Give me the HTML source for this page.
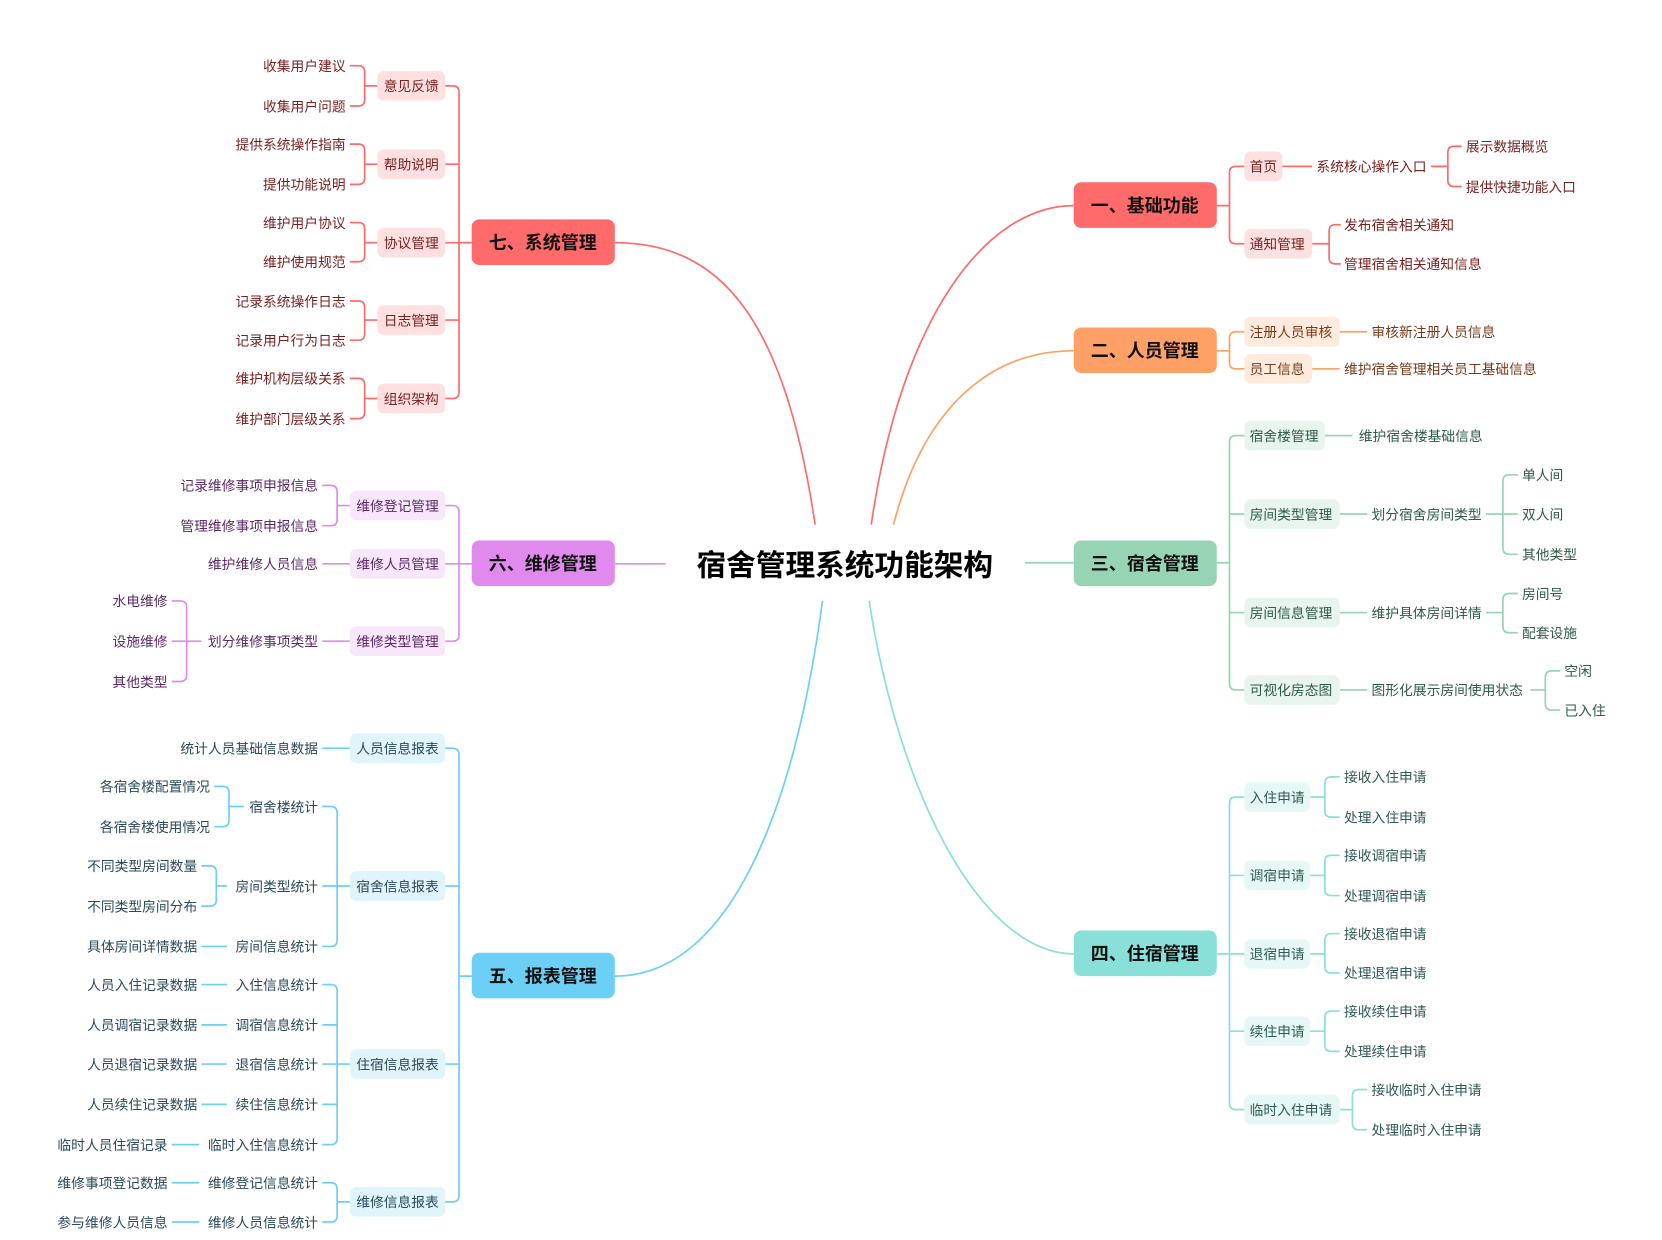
<!DOCTYPE html>
<html><head><meta charset="utf-8"><style>
html,body{margin:0;padding:0;background:#fff;width:1662px;height:1240px;overflow:hidden}
svg text{font-family:"Liberation Sans","Noto Sans CJK SC",sans-serif}
.t{font-size:13px}
.m{font-size:17px;font-weight:bold;fill:#111;text-anchor:middle}
.e{text-anchor:end}
path{fill:none;stroke-width:1.6}
</style></head><body>
<svg width="1662" height="1240" viewBox="0 0 1568 1170" xmlns="http://www.w3.org/2000/svg">
<!-- center -->
<text x="797" y="543" style="font-size:28px;font-weight:bold;text-anchor:middle;fill:#000">宿舍管理系统功能架构</text>
<path d="M822,495 C850,300 930,194 1013,194" stroke="#FF6B6B"/>
<path d="M843,495 C870,390 930,331 1013,331" stroke="#FFA066"/>
<path d="M967,531 H1013" stroke="#96D4B4"/>
<path d="M820,567 C850,760 930,900 1013,900" stroke="#88E0D8"/>
<path d="M769,495 C740,300 680,229 580,229" stroke="#FF6B6B"/>
<path d="M628,532 H580" stroke="#E08AED"/>
<path d="M776,567 C750,760 690,921 580,921" stroke="#6CCFF6"/>

<!-- 一 -->
<g stroke="#FF6B6B">
<path d="M1148,194 H1160 M1174,157 H1166 Q1160,157 1160,163 V224 Q1160,230 1166,230 H1174"/>
<path d="M1210,157 H1238 M1350,157 H1366 M1379,138 H1372 Q1366,138 1366,144 V170 Q1366,176 1372,176 H1379"/>
<path d="M1238,230 H1254 M1265,212 H1260 Q1254,212 1254,218 V243 Q1254,249 1260,249 H1265"/>
</g>
<rect x="1013" y="172" width="135" height="43" rx="7" fill="#FF6B6B"/>
<text class="m" x="1080" y="200">一、基础功能</text>
<g fill="#FFE0E0"><rect x="1174" y="143" width="36" height="28" rx="6"/><rect x="1174" y="216" width="64" height="28" rx="6"/></g>
<g class="t" fill="#7a1f1f">
<text x="1179" y="162">首页</text><text x="1242" y="162">系统核心操作入口</text>
<text x="1383" y="143">展示数据概览</text><text x="1383" y="181">提供快捷功能入口</text>
<text x="1179" y="235">通知管理</text><text x="1268" y="217">发布宿舍相关通知</text><text x="1268" y="254">管理宿舍相关通知信息</text>
</g>

<!-- 二 -->
<g stroke="#FFA066">
<path d="M1148,331 H1160 M1174,313 H1166 Q1160,313 1160,319 V342 Q1160,348 1166,348 H1174"/>
<path d="M1264,313 H1290 M1238,348 H1264"/>
</g>
<rect x="1013" y="309" width="135" height="43" rx="7" fill="#FFA066"/>
<text class="m" x="1080" y="337">二、人员管理</text>
<g fill="#FFEBDD"><rect x="1174" y="299" width="90" height="28" rx="6"/><rect x="1174" y="334" width="64" height="28" rx="6"/></g>
<g class="t" fill="#7a3a1a">
<text x="1179" y="318">注册人员审核</text><text x="1294" y="318">审核新注册人员信息</text>
<text x="1179" y="353">员工信息</text><text x="1268" y="353">维护宿舍管理相关员工基础信息</text>
</g>

<!-- 三 -->
<g stroke="#96D4B4">
<path d="M1148,531 H1160 M1174,411 H1166 Q1160,411 1160,417 V645 Q1160,651 1166,651 H1174 M1160,485 H1174 M1160,578 H1174"/>
<path d="M1250,411 H1276 M1264,485 H1290 M1264,578 H1290 M1264,651 H1290"/>
<path d="M1402,485 H1432 M1432,448 H1424 Q1418,448 1418,454 V517 Q1418,523 1424,523 H1432"/>
<path d="M1402,578 H1418 M1432,560 H1424 Q1418,560 1418,566 V591 Q1418,597 1424,597 H1432"/>
<path d="M1444,651 H1458 M1472,633 H1464 Q1458,633 1458,639 V664 Q1458,670 1464,670 H1472"/>
</g>
<rect x="1013" y="510" width="135" height="43" rx="7" fill="#96D4B4"/>
<text class="m" x="1080" y="538">三、宿舍管理</text>
<g fill="#E8F5EE"><rect x="1174" y="397" width="76" height="28" rx="6"/><rect x="1174" y="471" width="90" height="28" rx="6"/><rect x="1174" y="564" width="90" height="28" rx="6"/><rect x="1174" y="637" width="90" height="28" rx="6"/></g>
<g class="t" fill="#2f5a48">
<text x="1179" y="416">宿舍楼管理</text><text x="1282" y="416">维护宿舍楼基础信息</text>
<text x="1179" y="490">房间类型管理</text><text x="1294" y="490">划分宿舍房间类型</text>
<text x="1436" y="453">单人间</text><text x="1436" y="490">双人间</text><text x="1436" y="528">其他类型</text>
<text x="1179" y="583">房间信息管理</text><text x="1294" y="583">维护具体房间详情</text>
<text x="1436" y="565">房间号</text><text x="1436" y="602">配套设施</text>
<text x="1179" y="656">可视化房态图</text><text x="1294" y="656">图形化展示房间使用状态</text>
<text x="1476" y="638">空闲</text><text x="1476" y="675">已入住</text>
</g>

<!-- 四 -->
<g stroke="#88E0D8">
<path d="M1148,900 H1174 M1174,752 H1166 Q1160,752 1160,758 V1041 Q1160,1047 1166,1047 H1174 M1160,826 H1174 M1160,973 H1174"/>
<path d="M1236,752 H1250 M1264,733 H1256 Q1250,733 1250,739 V765 Q1250,771 1256,771 H1264"/>
<path d="M1236,826 H1250 M1264,807 H1256 Q1250,807 1250,813 V839 Q1250,845 1256,845 H1264"/>
<path d="M1236,900 H1250 M1264,881 H1256 Q1250,881 1250,887 V912 Q1250,918 1256,918 H1264"/>
<path d="M1236,973 H1250 M1264,954 H1256 Q1250,954 1250,960 V986 Q1250,992 1256,992 H1264"/>
<path d="M1264,1047 H1276 M1290,1028 H1282 Q1276,1028 1276,1034 V1060 Q1276,1066 1282,1066 H1290"/>
</g>
<rect x="1013" y="878" width="135" height="43" rx="7" fill="#88E0D8"/>
<text class="m" x="1080" y="906">四、住宿管理</text>
<g fill="#E6F8F6"><rect x="1174" y="738" width="62" height="28" rx="6"/><rect x="1174" y="812" width="62" height="28" rx="6"/><rect x="1174" y="886" width="62" height="28" rx="6"/><rect x="1174" y="959" width="62" height="28" rx="6"/><rect x="1174" y="1033" width="90" height="28" rx="6"/></g>
<g class="t" fill="#2f5a55">
<text x="1179" y="757">入住申请</text><text x="1268" y="738">接收入住申请</text><text x="1268" y="776">处理入住申请</text>
<text x="1179" y="831">调宿申请</text><text x="1268" y="812">接收调宿申请</text><text x="1268" y="850">处理调宿申请</text>
<text x="1179" y="905">退宿申请</text><text x="1268" y="886">接收退宿申请</text><text x="1268" y="923">处理退宿申请</text>
<text x="1179" y="978">续住申请</text><text x="1268" y="959">接收续住申请</text><text x="1268" y="997">处理续住申请</text>
<text x="1179" y="1052">临时入住申请</text><text x="1294" y="1033">接收临时入住申请</text><text x="1294" y="1071">处理临时入住申请</text>
</g>

<!-- 七 -->
<g stroke="#FF6B6B">
<path d="M445,229 H420 M420,81 H427 Q433,81 433,87 V370 Q433,376 427,376 H420 M433,155 H420 M433,302 H420"/>
<path d="M356,81 H344 M330,62 H338 Q344,62 344,68 V94 Q344,100 338,100 H330"/>
<path d="M356,155 H344 M330,136 H338 Q344,136 344,142 V168 Q344,174 338,174 H330"/>
<path d="M356,229 H344 M330,210 H338 Q344,210 344,216 V241 Q344,247 338,247 H330"/>
<path d="M356,302 H344 M330,284 H338 Q344,284 344,290 V315 Q344,321 338,321 H330"/>
<path d="M356,376 H344 M330,357 H338 Q344,357 344,363 V389 Q344,395 338,395 H330"/>
</g>
<rect x="445" y="207" width="135" height="43" rx="7" fill="#FF6B6B"/>
<text class="m" x="512" y="235">七、系统管理</text>
<g fill="#FFE0E0"><rect x="356" y="67" width="64" height="28" rx="6"/><rect x="356" y="141" width="64" height="28" rx="6"/><rect x="356" y="215" width="64" height="28" rx="6"/><rect x="356" y="288" width="64" height="28" rx="6"/><rect x="356" y="362" width="64" height="28" rx="6"/></g>
<g class="t" fill="#7a1f1f">
<text x="362" y="86">意见反馈</text><text x="362" y="160">帮助说明</text><text x="362" y="234">协议管理</text><text x="362" y="307">日志管理</text><text x="362" y="381">组织架构</text>
</g>
<g class="t e" fill="#7a1f1f">
<text x="326" y="67">收集用户建议</text><text x="326" y="105">收集用户问题</text>
<text x="326" y="141">提供系统操作指南</text><text x="326" y="179">提供功能说明</text>
<text x="326" y="215">维护用户协议</text><text x="326" y="252">维护使用规范</text>
<text x="326" y="289">记录系统操作日志</text><text x="326" y="326">记录用户行为日志</text>
<text x="326" y="362">维护机构层级关系</text><text x="326" y="400">维护部门层级关系</text>
</g>

<!-- 六 -->
<g stroke="#E08AED">
<path d="M445,532 H420 M420,477 H427 Q433,477 433,483 V599 Q433,605 427,605 H420"/>
<path d="M330,477 H318 M304,458 H312 Q318,458 318,464 V490 Q318,496 312,496 H304"/>
<path d="M330,532 H304 M330,605 H304"/>
<path d="M190,605 H162 M162,567 H170 Q176,567 176,573 V637 Q176,643 170,643 H162"/>
</g>
<rect x="445" y="510" width="135" height="43" rx="7" fill="#E08AED"/>
<text class="m" x="512" y="538">六、维修管理</text>
<g fill="#F8E6FB"><rect x="330" y="463" width="90" height="28" rx="6"/><rect x="330" y="518" width="90" height="28" rx="6"/><rect x="330" y="591" width="90" height="28" rx="6"/></g>
<g class="t" fill="#5a2a66">
<text x="336" y="482">维修登记管理</text><text x="336" y="537">维修人员管理</text><text x="336" y="610">维修类型管理</text>
</g>
<g class="t e" fill="#5a2a66">
<text x="300" y="463">记录维修事项申报信息</text><text x="300" y="501">管理维修事项申报信息</text>
<text x="300" y="537">维护维修人员信息</text><text x="300" y="610">划分维修事项类型</text>
<text x="158" y="572">水电维修</text><text x="158" y="610">设施维修</text><text x="158" y="648">其他类型</text>
</g>

<!-- 五 -->
<g stroke="#6CCFF6">
<path d="M445,921 H433 M420,706 H427 Q433,706 433,712 V1128 Q433,1134 427,1134 H420 M433,836 H420 M433,1004 H420"/>
<path d="M330,706 H304"/>
<path d="M330,836 H304 M304,761 H312 Q318,761 318,767 V887 Q318,893 312,893 H304"/>
<path d="M230,761 H216 M202,742 H210 Q216,742 216,748 V774 Q216,780 210,780 H202"/>
<path d="M214,836 H204 M190,817 H198 Q204,817 204,823 V849 Q204,855 198,855 H190"/>
<path d="M214,893 H190"/>
<path d="M330,1004 H304 M304,929 H312 Q318,929 318,935 V1074 Q318,1080 312,1080 H304 M318,967 H304 M318,1042 H304"/>
<path d="M214,929 H190 M214,967 H190 M214,1004 H190 M214,1042 H190 M188,1080 H162"/>
<path d="M330,1134 H318 M304,1116 H312 Q318,1116 318,1122 V1147 Q318,1153 312,1153 H304"/>
<path d="M188,1116 H162 M188,1153 H162"/>
</g>
<rect x="445" y="899" width="135" height="43" rx="7" fill="#6CCFF6"/>
<text class="m" x="512" y="927">五、报表管理</text>
<g fill="#E0F4FC"><rect x="330" y="692" width="90" height="28" rx="6"/><rect x="330" y="822" width="90" height="28" rx="6"/><rect x="330" y="990" width="90" height="28" rx="6"/><rect x="330" y="1120" width="90" height="28" rx="6"/></g>
<g class="t" fill="#2b4a5a">
<text x="336" y="711">人员信息报表</text><text x="336" y="841">宿舍信息报表</text><text x="336" y="1009">住宿信息报表</text><text x="336" y="1139">维修信息报表</text>
</g>
<g class="t e" fill="#2b4a5a">
<text x="300" y="711">统计人员基础信息数据</text>
<text x="300" y="766">宿舍楼统计</text><text x="198" y="747">各宿舍楼配置情况</text><text x="198" y="785">各宿舍楼使用情况</text>
<text x="300" y="841">房间类型统计</text><text x="186" y="822">不同类型房间数量</text><text x="186" y="860">不同类型房间分布</text>
<text x="300" y="898">房间信息统计</text><text x="186" y="898">具体房间详情数据</text>
<text x="300" y="934">入住信息统计</text><text x="186" y="934">人员入住记录数据</text>
<text x="300" y="972">调宿信息统计</text><text x="186" y="972">人员调宿记录数据</text>
<text x="300" y="1009">退宿信息统计</text><text x="186" y="1009">人员退宿记录数据</text>
<text x="300" y="1047">续住信息统计</text><text x="186" y="1047">人员续住记录数据</text>
<text x="300" y="1085">临时入住信息统计</text><text x="158" y="1085">临时人员住宿记录</text>
<text x="300" y="1121">维修登记信息统计</text><text x="158" y="1121">维修事项登记数据</text>
<text x="300" y="1158">维修人员信息统计</text><text x="158" y="1158">参与维修人员信息</text>
</g>
</svg>
</body></html>
